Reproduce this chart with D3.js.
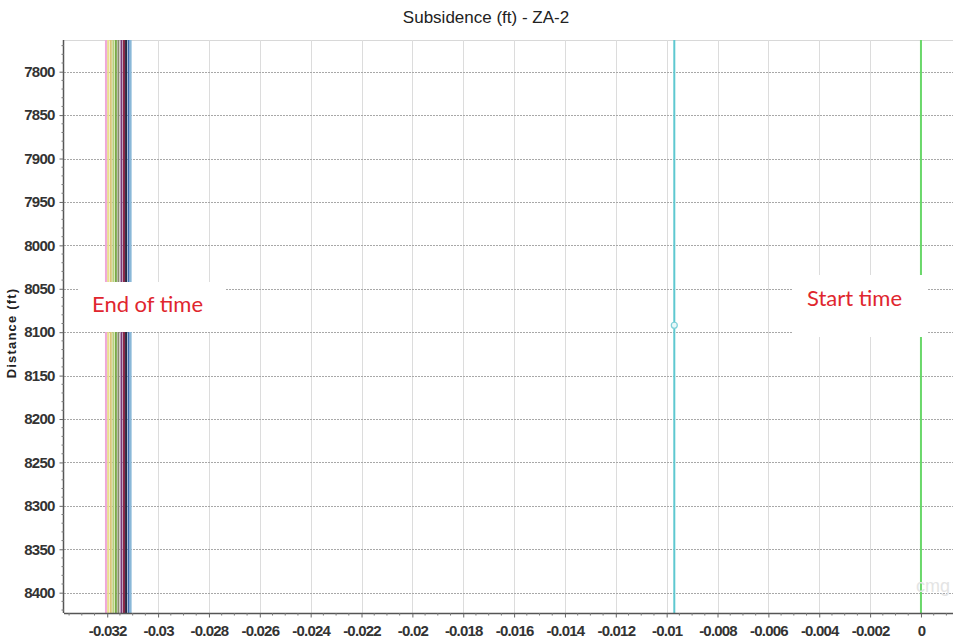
<!DOCTYPE html>
<html>
<head>
<meta charset="utf-8">
<script src="https://cdn.jsdelivr.net/npm/d3@7"></script>
<style>
  html, body { margin: 0; padding: 0; background: #fff; }
  svg { display: block; }
</style>
</head>
<body>
<svg id="chart" width="953" height="643"></svg>
<script>
// Subsidence profiles along the well (constant with depth for each time step)
const depths = [7750, 8430];
const profileValues = [-0.03205, -0.03196, -0.03186, -0.03176, -0.03166, -0.03156, -0.03144, -0.03134, -0.03126, -0.03116, -0.03108, -0.0097, 0];
const profileColors = ["#f0a8d8", "#ece08c", "#d8c478", "#b8d07a", "#78a848", "#8a8a70", "#7a3a78", "#8a2848", "#2a2a40", "#3c6cb0", "#8ab8d8", "#5ec8d0", "#6ad86a"];
const markerPoint = { value: -0.0097, depth: 8092 };

const xTicks = [-0.032, -0.03, -0.028, -0.026, -0.024, -0.022, -0.02, -0.018, -0.016, -0.014, -0.012, -0.01, -0.008, -0.006, -0.004, -0.002, 0];
const yTicks = [7800, 7850, 7900, 7950, 8000, 8050, 8100, 8150, 8200, 8250, 8300, 8350, 8400];
const xDomain = [-0.0337, 0.00126];
const yDomain = [7763.5, 8423.4];

const titleText = "Subsidence (ft) - ZA-2";
const yLabelText = "Distance (ft)";
const notes = [
  { text: "End of time", box: [78, 282, 147, 50], tx: 92, ty: 312 },
  { text: "Start time", box: [792, 275, 136, 62], tx: 807, ty: 306 }
];

const svg = d3.select("#chart");
const plot = { left: 64, top: 40, right: 953, bottom: 613 };

const x = d3.scaleLinear().domain(xDomain).range([plot.left, plot.right]);
const y = d3.scaleLinear().domain(yDomain).range([plot.top, plot.bottom]);

svg.append("defs").append("clipPath").attr("id", "plotClip")
  .append("rect")
  .attr("x", plot.left).attr("y", plot.top)
  .attr("width", plot.right - plot.left).attr("height", plot.bottom - plot.top);

// top frame line
svg.append("line")
  .attr("x1", plot.left).attr("x2", plot.right)
  .attr("y1", plot.top + 0.5).attr("y2", plot.top + 0.5)
  .attr("stroke", "#d8d8d8").attr("stroke-width", 1);

// vertical grid
svg.append("g").selectAll("line").data(xTicks).join("line")
  .attr("x1", d => Math.round(x(d)) + 0.5).attr("x2", d => Math.round(x(d)) + 0.5)
  .attr("y1", plot.top).attr("y2", plot.bottom)
  .attr("stroke", "#dcdcdc").attr("stroke-width", 1);

// horizontal grid (dotted)
svg.append("g").selectAll("line").data(yTicks).join("line")
  .attr("x1", plot.left).attr("x2", plot.right)
  .attr("y1", d => Math.round(y(d)) + 0.5).attr("y2", d => Math.round(y(d)) + 0.5)
  .attr("stroke", "#a8a8a8").attr("stroke-width", 1)
  .attr("stroke-dasharray", "2,1");

// profiles
const line = d3.line().x(d => x(d[0])).y(d => y(d[1]));
svg.append("g").attr("clip-path", "url(#plotClip)")
  .selectAll("path").data(profileValues).join("path")
  .attr("d", v => line(depths.map(dp => [v, dp])))
  .attr("fill", "none")
  .attr("stroke", (v, i) => profileColors[i])
  .attr("stroke-width", 2);

// selected point marker
svg.append("circle")
  .attr("cx", x(markerPoint.value)).attr("cy", y(markerPoint.depth))
  .attr("r", 3)
  .attr("fill", "#e8f8fa").attr("stroke", "#7ed0d8").attr("stroke-width", 1.2);

// faint logo mark
svg.append("text")
  .attr("x", 916).attr("y", 592)
  .attr("font-family", "Liberation Sans, Arial, sans-serif")
  .attr("font-size", 18)
  .attr("fill", "#e4e4e4")
  .text("cmg");

// axes
const fmt = d => d === 0 ? "0" : String(+d.toFixed(3));
const xAxis = d3.axisBottom(x).tickValues(xTicks).tickFormat(fmt).tickSize(4).tickPadding(8);
const yAxis = d3.axisLeft(y).tickValues(yTicks).tickFormat(d3.format("d")).tickSize(4).tickPadding(5);

const gx = svg.append("g").attr("transform", `translate(0,${plot.bottom + 0.5})`).call(xAxis);
const gy = svg.append("g").attr("transform", `translate(${plot.left - 0.5},0)`).call(yAxis);

// minor ticks
const xMinor = d3.range(-0.0335, 0.00126, 0.0005).filter(v => !xTicks.some(t => Math.abs(t - v) < 1e-9));
svg.append("g").selectAll("line").data(xMinor).join("line")
  .attr("x1", d => x(d)).attr("x2", d => x(d))
  .attr("y1", plot.bottom).attr("y2", plot.bottom + 2.5)
  .attr("stroke", "#777");
const yMinor = d3.range(7770, 8423, 10).filter(v => v % 50 !== 0);
svg.append("g").selectAll("line").data(yMinor).join("line")
  .attr("x1", plot.left - 2.5).attr("x2", plot.left)
  .attr("y1", d => y(d)).attr("y2", d => y(d))
  .attr("stroke", "#777");

[gx, gy].forEach(g => {
  g.select(".domain").attr("stroke", "#555").attr("stroke-width", 1.5);
  g.selectAll(".tick line").attr("stroke", "#666");
  g.selectAll("text")
    .attr("font-family", "Liberation Sans Narrow, Liberation Sans, Arial, sans-serif")
    .attr("font-weight", "bold")
    .attr("font-size", 15)
    .attr("letter-spacing", -0.8)
    .attr("fill", "#333");
});
gy.select(".domain").attr("d", `M0,${plot.top}V${plot.bottom}`);
gx.select(".domain").attr("d", `M${plot.left},0H${plot.right}`);

// title
svg.append("text")
  .attr("x", 486).attr("y", 23)
  .attr("text-anchor", "middle")
  .attr("font-family", "Liberation Sans Narrow, Liberation Sans, Arial, sans-serif")
  .attr("font-size", 17)
  .attr("fill", "#222")
  .text(titleText);

// y label
svg.append("text")
  .attr("transform", "translate(16,333) rotate(-90)")
  .attr("text-anchor", "middle")
  .attr("font-family", "Liberation Sans, Arial, sans-serif")
  .attr("font-weight", "bold")
  .attr("font-size", 13)
  .attr("letter-spacing", 1.2)
  .attr("fill", "#222")
  .text(yLabelText);

// annotation boxes
const ann = svg.append("g").selectAll("g").data(notes).join("g");
ann.append("rect")
  .attr("x", d => d.box[0]).attr("y", d => d.box[1])
  .attr("width", d => d.box[2]).attr("height", d => d.box[3])
  .attr("fill", "#fff");
ann.append("text")
  .attr("x", d => d.tx).attr("y", d => d.ty)
  .attr("font-family", "Lato, Open Sans, sans-serif")
  .attr("font-size", 22)
  .attr("fill", "#e0262e")
  .text(d => d.text);
</script>
</body>
</html>
